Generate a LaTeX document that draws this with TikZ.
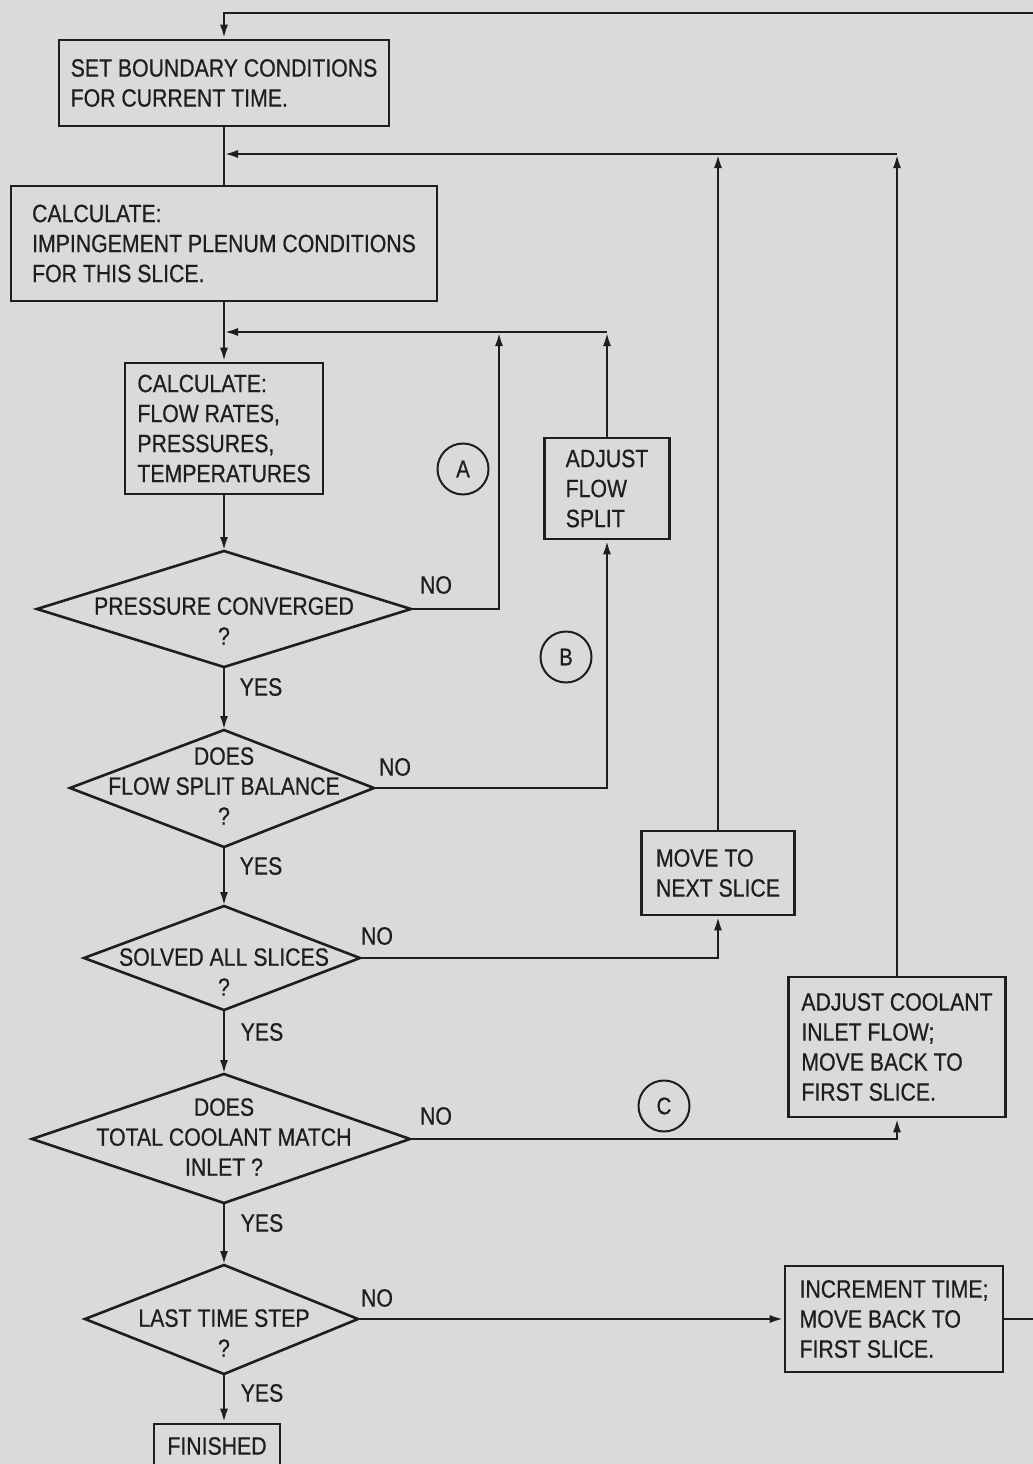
\documentclass[tikz,border=0pt]{standalone}
\usepackage{fontspec}
\setmainfont{Liberation Sans}[FakeStretch=0.85,FakeBold=0.6]
\usetikzlibrary{arrows.meta}
\definecolor{bg}{RGB}{218,218,218}
\definecolor{ink}{RGB}{30,30,30}
\begin{document}
\begin{tikzpicture}[x=1pt,y=-1pt,
  every node/.style={font=\fontsize{25}{30}\selectfont, text=ink},
  box/.style={draw=ink, line width=2.6pt, align=left, inner sep=0pt},
  lbl/.style={inner sep=0pt},
  ln/.style={draw=ink, line width=2.6pt},
  arr/.style={ln, -{Latex[length=14pt,width=8pt]}},
  ring/.style={draw=ink, line width=2pt, circle, minimum size=51pt, inner sep=0pt, font=\fontsize{24}{28}\selectfont}
]
\fill[bg] (0,0) rectangle (1033,1464);
\useasboundingbox (0,0) rectangle (1033,1464);

% boxes
\node[box, minimum width=330pt, minimum height=86pt] (b1) at (224,83) {SET BOUNDARY CONDITIONS\\FOR CURRENT TIME.};
\node[box, minimum width=426pt, minimum height=115pt] (b2) at (224,243.5) {CALCULATE:\\IMPINGEMENT PLENUM CONDITIONS\\FOR THIS SLICE.};
\node[box, minimum width=198pt, minimum height=131pt] (b3) at (224,428.5) {CALCULATE:\\FLOW RATES,\\PRESSURES,\\TEMPERATURES};
\node[box, minimum width=125pt, minimum height=101pt] (fs) at (607,488.5) {ADJUST\\FLOW\\SPLIT};
\node[box, minimum width=153pt, minimum height=84pt] (nx) at (718,873) {MOVE TO\\NEXT SLICE};
\node[box, minimum width=217pt, minimum height=140pt] (cl) at (897,1047) {ADJUST COOLANT\\INLET FLOW;\\MOVE BACK TO\\FIRST SLICE.};
\node[box, minimum width=218pt, minimum height=106pt] (inc) at (894,1319) {INCREMENT TIME;\\MOVE BACK TO\\FIRST SLICE.};
\node[box, minimum width=126pt, minimum height=44pt] (fin) at (217,1446) {FINISHED};

% diamonds
\coordinate (d1n) at (224,551); \coordinate (d1s) at (224,667);
\coordinate (d1w) at (37,609);  \coordinate (d1e) at (411,609);
\draw[ln] (d1n) -- (d1e) -- (d1s) -- (d1w) -- cycle;
\node[lbl, align=center] (d1) at (224,621) {PRESSURE CONVERGED\\?};

\coordinate (d2n) at (224,730); \coordinate (d2s) at (224,847);
\coordinate (d2w) at (70,788);  \coordinate (d2e) at (374,788);
\draw[ln] (d2n) -- (d2e) -- (d2s) -- (d2w) -- cycle;
\node[lbl, align=center] (d2) at (224,786) {DOES\\FLOW SPLIT BALANCE\\?};

\coordinate (d3n) at (224,906); \coordinate (d3s) at (224,1010);
\coordinate (d3w) at (84,958);  \coordinate (d3e) at (360,958);
\draw[ln] (d3n) -- (d3e) -- (d3s) -- (d3w) -- cycle;
\node[lbl, align=center] (d3) at (224,972) {SOLVED ALL SLICES\\?};

\coordinate (d4n) at (224,1074); \coordinate (d4s) at (224,1203);
\coordinate (d4w) at (32,1139);  \coordinate (d4e) at (410,1139);
\draw[ln] (d4n) -- (d4e) -- (d4s) -- (d4w) -- cycle;
\node[lbl, align=center] (d4) at (224,1137) {DOES\\TOTAL COOLANT MATCH\\INLET ?};

\coordinate (d5n) at (224,1265); \coordinate (d5s) at (224,1374);
\coordinate (d5w) at (85,1319);  \coordinate (d5e) at (358,1319);
\draw[ln] (d5n) -- (d5e) -- (d5s) -- (d5w) -- cycle;
\node[lbl, align=center] (d5) at (224,1333) {LAST TIME STEP\\?};

% junction coordinates
\coordinate (j1) at (224,154);
\coordinate (j2) at (224,332);
\coordinate (aTop) at (499,332);
\coordinate (tr) at (1060,13);
\coordinate (br) at (1060,1319);

% main column
\draw[arr] (inc.east) -- (br) -- (tr) -| (b1.north);
\draw[ln] (b1.south) -- (b2.north);
\draw[arr] (b2.south) -- (b3.north);
\draw[arr] (b3.south) -- (d1n);
\draw[arr] (d1s) -- (d2n);
\draw[arr] (d2s) -- (d3n);
\draw[arr] (d3s) -- (d4n);
\draw[arr] (d4s) -- (d5n);
\draw[arr] (d5s) -- (d5s |- fin.north);

% loops
\draw[arr] (d1e) -| (aTop);
\draw[arr] (fs.north) -- (fs.north |- j2);
\draw[arr] (fs.north |- j2) -- (j2);
\draw[arr] (d2e) -| (fs.south);
\draw[arr] (d3e) -| (nx.south);
\draw[arr] (nx.north) -- (nx.north |- j1);
\draw[arr] (d4e) -| (cl.south);
\draw[arr] (cl.north) -- (cl.north |- j1);
\draw[arr] (cl.north |- j1) -- (j1);
\draw[arr] (d5e) -- (inc.west);

% labels
\node[lbl] (no1) at (436,585) {NO};
\node[lbl] (yes1) at (261,687) {YES};
\node[lbl] (no2) at (395,767) {NO};
\node[lbl] (yes2) at (261,866) {YES};
\node[lbl] (no3) at (377,936) {NO};
\node[lbl] (yes3) at (262,1032) {YES};
\node[lbl] (no4) at (436,1116) {NO};
\node[lbl] (yes4) at (262,1223) {YES};
\node[lbl] (no5) at (377,1298) {NO};
\node[lbl] (yes5) at (262,1393) {YES};

% circled letters
\node[ring] (ca) at (463,469) {A};
\node[ring] (cb) at (566,657) {B};
\node[ring] (cc) at (664,1106) {C};
\end{tikzpicture}
\end{document}
